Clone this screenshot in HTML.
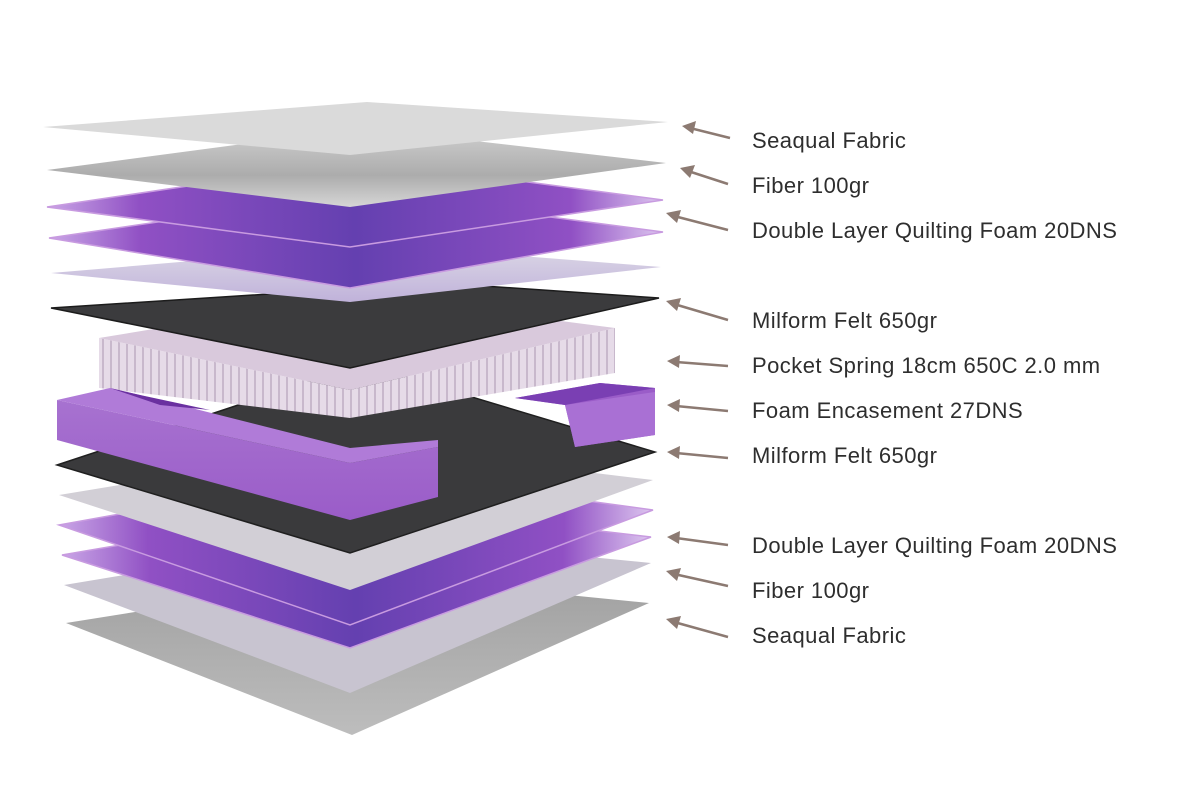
<!DOCTYPE html>
<html><head><meta charset="utf-8"><style>
html,body{margin:0;padding:0;background:#fff}
svg{display:block}
text{font-family:"Liberation Sans",sans-serif;font-size:22px;letter-spacing:0.45px;fill:#2e2e2e}
</style></head><body>
<svg width="1200" height="796" viewBox="0 0 1200 796" xmlns="http://www.w3.org/2000/svg">
<defs>
<linearGradient id="pur" x1="0" y1="0" x2="1" y2="0">
<stop offset="0" stop-color="#c9a6e6"/><stop offset="0.15" stop-color="#9050c4"/><stop offset="0.5" stop-color="#6440b0"/><stop offset="0.85" stop-color="#9050c4"/><stop offset="1" stop-color="#ddc6ef"/>
</linearGradient>
<linearGradient id="lav" x1="0" y1="0" x2="0" y2="1">
<stop offset="0" stop-color="#dcd8e6"/><stop offset="1" stop-color="#c0b2da"/>
</linearGradient>
<linearGradient id="gry" x1="0" y1="0" x2="0" y2="1">
<stop offset="0" stop-color="#d0d0d0"/><stop offset="0.6" stop-color="#acacac"/><stop offset="1" stop-color="#d6d6d6"/>
</linearGradient>
<linearGradient id="gry2" x1="0" y1="0" x2="0" y2="1">
<stop offset="0" stop-color="#a0a0a0"/><stop offset="1" stop-color="#bdbdbd"/>
</linearGradient>
<linearGradient id="foam" x1="0" y1="0" x2="0" y2="1">
<stop offset="0" stop-color="#a772d0"/><stop offset="1" stop-color="#9a5cc8"/>
</linearGradient>
<pattern id="spr" width="8" height="10" patternUnits="userSpaceOnUse">
<rect width="8" height="10" fill="#e6dbe8"/><rect x="6" width="2" height="10" fill="#c8b8cc"/>
</pattern>
</defs>

<polygon points="66,623 368,575 649,603 352,735" fill="url(#gry2)"/>
<polygon points="64,585 365,535 651,563 350,693" fill="#c8c4d0"/>
<polygon points="62,555 363,503 651,537 350,648" fill="url(#pur)" stroke="#c89be0" stroke-width="1.5"/>
<polygon points="59,525 362,470 653,510 350,625" fill="url(#pur)" stroke="#c89be0" stroke-width="1.5"/>
<polygon points="59,495 362,445 653,480 350,590" fill="#d2cfd6"/>
<polygon points="57,465 362,364 655,452 350,553" fill="#3a3a3c" stroke="#1f1f1f" stroke-width="1.5"/>
<polygon points="515,398 600,383 655,388 655,435 575,447 565,405" fill="#9a5cc8"/>
<polygon points="565,405 655,392 655,435 575,447" fill="#a970d4"/>
<polygon points="515,398 600,383 655,388 565,405" fill="#7a3fb3"/>
<polygon points="99,338 350,390 615,328 615,373 350,418 99,388" fill="url(#spr)"/>
<polygon points="99,338 360,295 615,328 350,390" fill="#d9c9dc"/>
<polygon points="57,400 57,440 350,520 438,497 438,447 350,463" fill="url(#foam)"/>
<polygon points="57,400 110,388 140,395 350,448 438,440 438,447 350,463" fill="#b07bd8"/>
<polygon points="110,388 140,395 210,410 160,405" fill="#6a30a0"/>
<polygon points="51,308 440,283 659,298 350,368" fill="#3b3b3d" stroke="#1c1c1c" stroke-width="1.5"/>
<polygon points="51,273 380,245 661,267 350,302" fill="url(#lav)"/>
<polygon points="49,238 362,192 663,232 350,288" fill="url(#pur)" stroke="#c89be0" stroke-width="1.5"/>
<polygon points="47,207 362,160 663,200 350,247" fill="url(#pur)" stroke="#c89be0" stroke-width="1.5"/>
<polygon points="47,170 363,128 666,163 350,207" fill="url(#gry)"/>
<polygon points="43,127 367,102 668,122 350,155" fill="#dadada"/>

<g stroke="#8c7a72" stroke-width="2.5" fill="#8c7a72">
<line x1="730" y1="138" x2="690" y2="128"/><polygon points="682,126 696,121 693,134" stroke="none"/>
<line x1="728" y1="184" x2="688" y2="171"/><polygon points="680,168 695,165 690,178" stroke="none"/>
<line x1="728" y1="230" x2="674" y2="216"/><polygon points="666,213 681,210 677,223" stroke="none"/>
<line x1="728" y1="320" x2="674" y2="304"/><polygon points="666,301 681,298 677,311" stroke="none"/>
<line x1="728" y1="366" x2="676" y2="362"/><polygon points="667,361 680,355 679,368" stroke="none"/>
<line x1="728" y1="411" x2="676" y2="406"/><polygon points="667,405 680,399 679,412" stroke="none"/>
<line x1="728" y1="458" x2="676" y2="453"/><polygon points="667,452 680,446 679,459" stroke="none"/>
<line x1="728" y1="545" x2="676" y2="538"/><polygon points="667,537 680,531 679,544" stroke="none"/>
<line x1="728" y1="586" x2="674" y2="574"/><polygon points="666,571 681,568 677,581" stroke="none"/>
<line x1="728" y1="637" x2="674" y2="622"/><polygon points="666,619 681,616 677,629" stroke="none"/>
</g>

<text x="752" y="148">Seaqual Fabric</text>
<text x="752" y="193">Fiber 100gr</text>
<text x="752" y="238">Double Layer Quilting Foam 20DNS</text>
<text x="752" y="328">Milform Felt 650gr</text>
<text x="752" y="373">Pocket Spring 18cm 650C 2.0 mm</text>
<text x="752" y="418">Foam Encasement 27DNS</text>
<text x="752" y="463">Milform Felt 650gr</text>
<text x="752" y="553">Double Layer Quilting Foam 20DNS</text>
<text x="752" y="598">Fiber 100gr</text>
<text x="752" y="643">Seaqual Fabric</text>
</svg>
</body></html>
